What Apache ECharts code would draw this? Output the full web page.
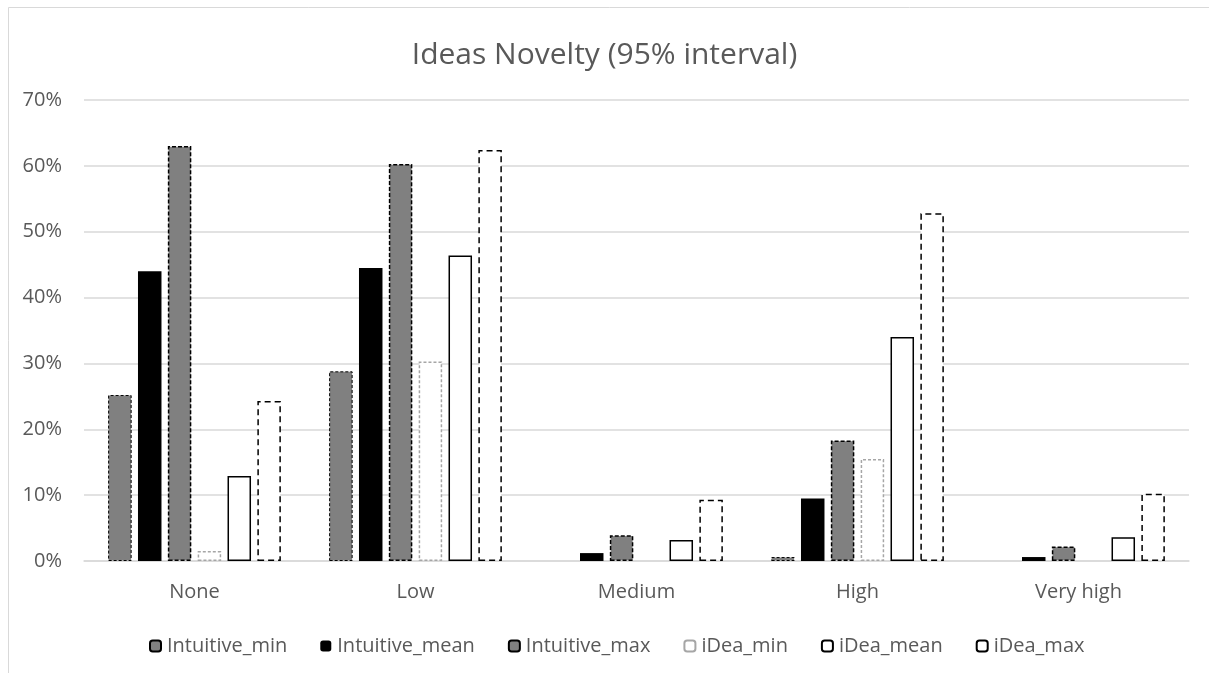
<!DOCTYPE html>
<html>
<head>
<meta charset="utf-8">
<script src="https://cdn.jsdelivr.net/npm/echarts@6/dist/echarts.min.js"></script>
<style>html,body{margin:0;padding:0;background:#fff}#c{width:1209px;height:673px}</style>
</head>
<body>
<div id="c"></div>
<script>
const categories = ['None', 'Low', 'Medium', 'High', 'Very high'];
const seriesNames = ['Intuitive_min', 'Intuitive_mean', 'Intuitive_max', 'iDea_min', 'iDea_mean', 'iDea_max'];
const intuitiveMin = [25.2, 28.8, 0, 0.6, 0];
const intuitiveMean = [44.0, 44.5, 1.2, 9.5, 0.6];
const intuitiveMax = [63.0, 60.3, 3.9, 18.3, 2.2];
const ideaMin = [1.5, 30.3, 0, 15.5, 0];
const ideaMean = [12.9, 46.4, 3.2, 34.0, 3.6];
const ideaMax = [24.3, 62.4, 9.3, 52.8, 10.2];
const yTicks = [0, 10, 20, 30, 40, 50, 60, 70];

const FONT = '"Open Sans"';
const styles = [
  {color: '#808080', borderColor: '#000', borderWidth: 1, borderType: [3, 2]},
  {color: '#000000', borderWidth: 0},
  {color: '#808080', borderColor: '#000', borderWidth: 1.5, borderType: [4, 2]},
  {color: '#ffffff', borderColor: '#a6a6a6', borderWidth: 1.5, borderType: [3, 2]},
  {color: '#ffffff', borderColor: '#000', borderWidth: 1.5, borderType: 'solid'},
  {color: '#ffffff', borderColor: '#000', borderWidth: 1.5, borderType: [6, 4]}
];
const values = [intuitiveMin, intuitiveMean, intuitiveMax, ideaMin, ideaMean, ideaMax];

const chart = echarts.init(document.getElementById('c'), null, {renderer: 'canvas'});
chart.setOption({
  animation: false,
  backgroundColor: '#ffffff',
  textStyle: {fontFamily: FONT},
  title: {
    text: 'Ideas Novelty (95% interval)',
    left: 'center', top: 35,
    textStyle: {fontFamily: FONT, fontSize: 30, fontWeight: 'normal', color: '#595959'}
  },
  graphic: [{
    type: 'rect', shape: {x: 8.5, y: 7.5, width: 1300, height: 800},
    style: {fill: 'none', stroke: '#d9d9d9', lineWidth: 1}, silent: true
  }],
  legend: {
    top: 631, left: 144, itemWidth: 11, itemHeight: 11, itemGap: 33,
    textStyle: {fontFamily: FONT, fontSize: 20, color: '#595959', padding: [0, 0, 0, 1]},
    data: seriesNames
  },
  grid: {left: 84, right: 20, top: 100, bottom: 112, containLabel: false},
  xAxis: {
    type: 'category', data: categories,
    axisLine: {lineStyle: {color: '#d9d9d9', width: 1.5}},
    axisTick: {show: false},
    axisLabel: {fontFamily: FONT, fontSize: 20, color: '#595959', margin: 21}
  },
  yAxis: {
    type: 'value', min: 0, max: 70, interval: 10,
    axisLine: {show: false}, axisTick: {show: false},
    splitLine: {lineStyle: {color: '#d9d9d9', width: 1.5}},
    axisLabel: {fontFamily: FONT, fontSize: 20, color: '#595959', margin: 22,
      formatter: v => yTicks.includes(v) ? v + '%' : ''}
  },
  series: seriesNames.map((n, i) => ({
    name: n, type: 'bar', data: values[i].map(v => v === 0 ? null : v),
    barWidth: 23.5, barGap: '27%',
    itemStyle: styles[i]
  }))
});
</script>
</body>
</html>
